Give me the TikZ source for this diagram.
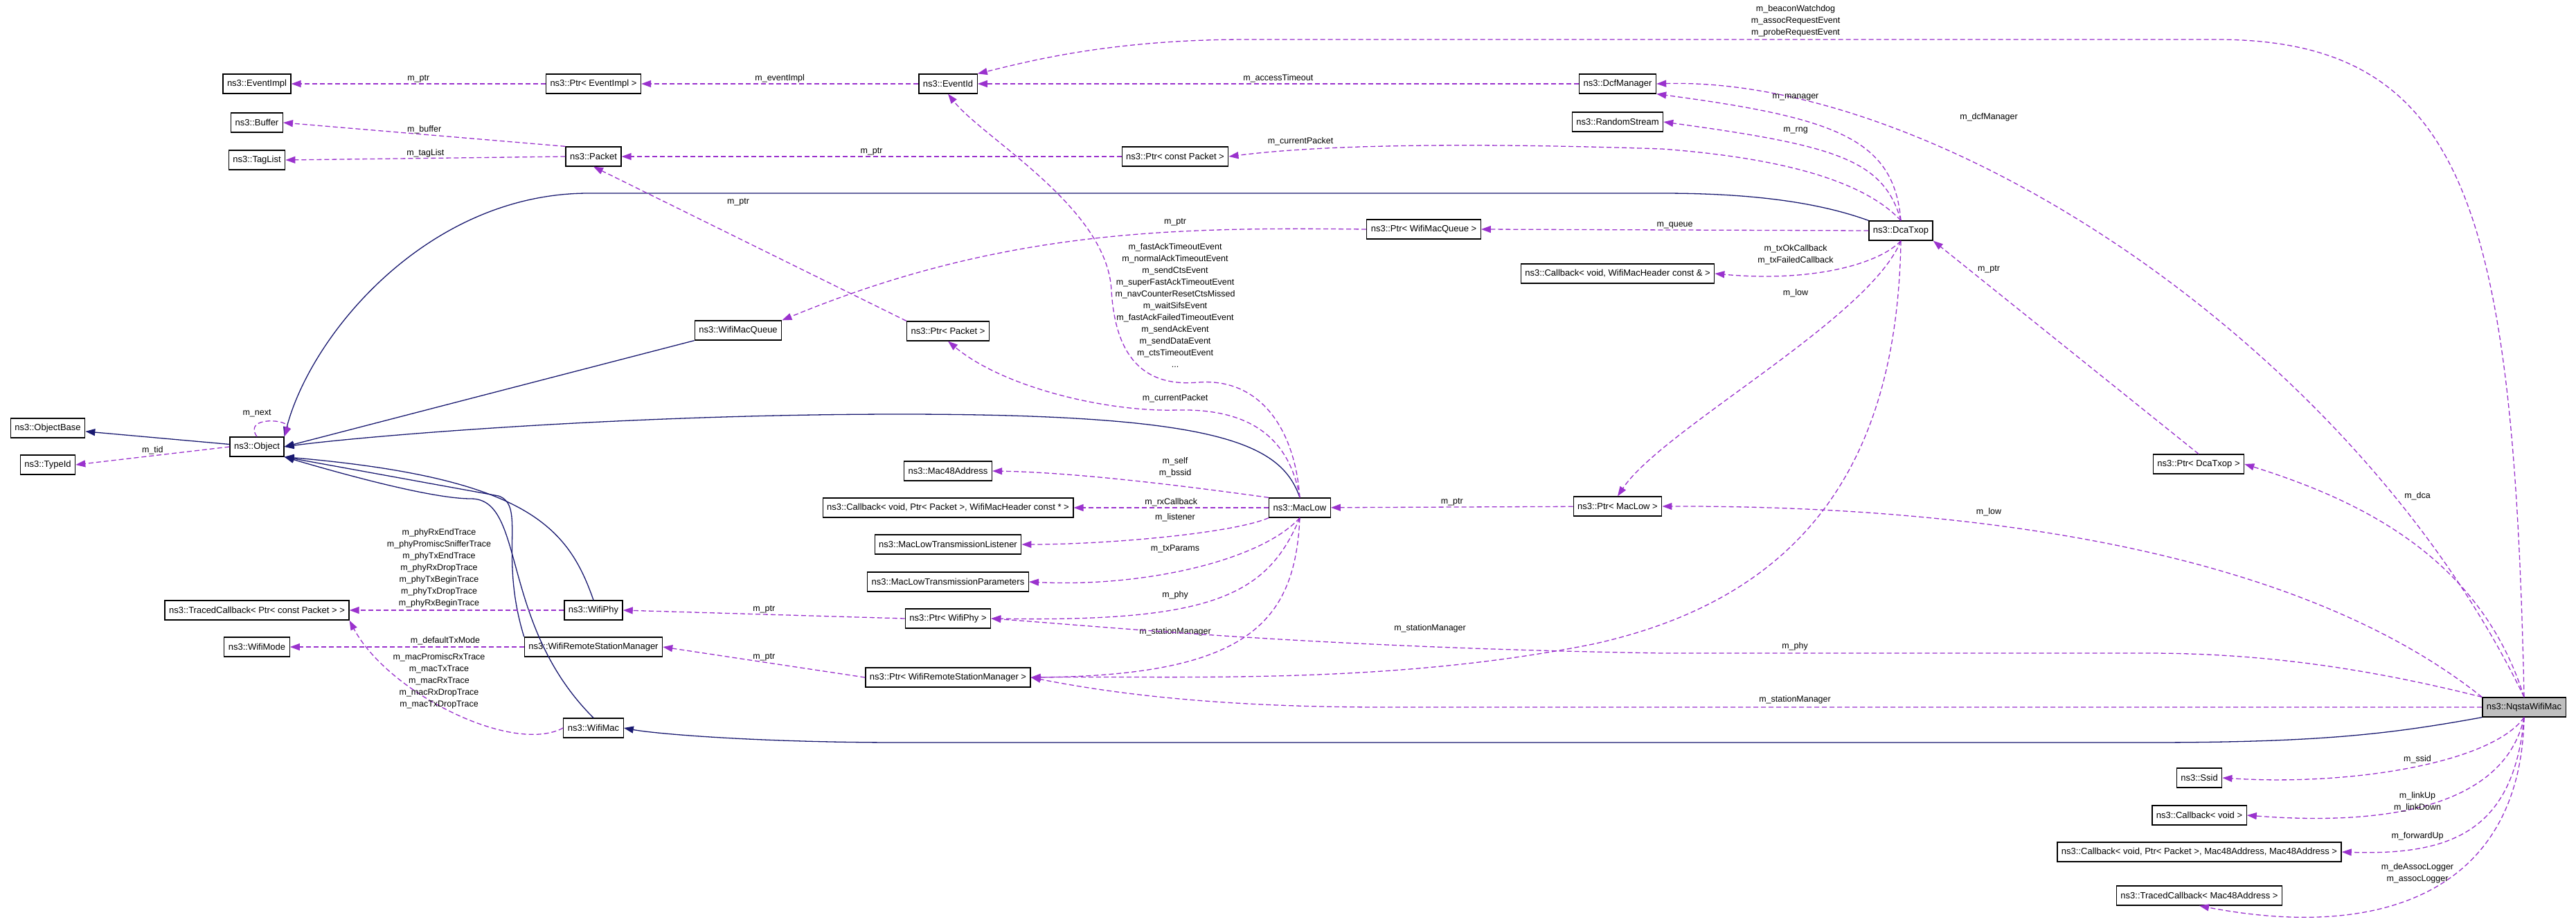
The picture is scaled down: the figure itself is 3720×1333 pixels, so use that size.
\documentclass[tikz,border=0pt]{standalone}
\usepackage{fontspec}
\setmainfont{Liberation Sans}
\usetikzlibrary{arrows.meta}
\definecolor{edgepurple}{HTML}{9A32CD}
\definecolor{inhblue}{HTML}{191970}
\tikzset{
  cls/.style={draw, line width=1.3pt, fill=white, inner xsep=6pt, inner ysep=0pt, minimum height=28pt, font=\fontsize{13}{15}\selectfont},
  lbl/.style={font=\fontsize{12.5}{17}\selectfont, align=center, inner sep=1pt, text=black},
  use/.style={draw=edgepurple, line width=1.3pt, dash pattern=on 7pt off 4pt, -{Triangle[length=14pt,width=10pt]}, edgepurple},
  inh/.style={draw=inhblue, line width=1.3pt, -{Triangle[length=14pt,width=10pt]}, inhblue}
}
\begin{document}
\begin{tikzpicture}[x=1pt,y=-1pt]
	\useasboundingbox (0,0) rectangle (3720,1333);
	% classes
	\node[cls] (evimpl) at (371,121) {ns3::EventImpl};
	\node[cls] (pevimpl) at (857,121) {ns3::Ptr< EventImpl >};
	\node[cls] (buffer) at (371,177) {ns3::Buffer};
	\node[cls] (taglist) at (371,231) {ns3::TagList};
	\node[cls] (packet) at (857,226) {ns3::Packet};
	\node[cls] (macqueue) at (1066,477) {ns3::WifiMacQueue};
	\node[cls] (objbase) at (69,618) {ns3::ObjectBase};
	\node[cls] (object) at (371,645) {ns3::Object};
	\node[cls] (typeid) at (69,671) {ns3::TypeId};
	\node[cls] (eventid) at (1369,121) {ns3::EventId};
	\node[cls] (dcfmgr) at (2336,121) {ns3::DcfManager};
	\node[cls] (rstream) at (2336,176) {ns3::RandomStream};
	\node[cls] (pcpacket) at (1697,226) {ns3::Ptr< const Packet >};
	\node[cls] (pqueue) at (2056,331) {ns3::Ptr< WifiMacQueue >};
	\node[cls] (cbhdr) at (2336,395) {ns3::Callback< void, WifiMacHeader const \& >};
	\node[cls] (ppacket) at (1369,478) {ns3::Ptr< Packet >};
	\node[cls] (mac48) at (1369,680) {ns3::Mac48Address};
	\node[cls] (cbrx) at (1369,733) {ns3::Callback< void, Ptr< Packet >, WifiMacHeader const * >};
	\node[cls] (lowlist) at (1369,786) {ns3::MacLowTransmissionListener};
	\node[cls] (lowparam) at (1369,840) {ns3::MacLowTransmissionParameters};
	\node[cls] (pphy) at (1369,893) {ns3::Ptr< WifiPhy >};
	\node[cls] (pstation) at (1369,978) {ns3::Ptr< WifiRemoteStationManager >};
	\node[cls] (maclow) at (1877,733) {ns3::MacLow};
	\node[cls] (pmaclow) at (2336,731) {ns3::Ptr< MacLow >};
	\node[cls] (dcatxop) at (2745,333) {ns3::DcaTxop};
	\node[cls] (pdca) at (3175,670) {ns3::Ptr< DcaTxop >};
	\node[cls] (tracepkt) at (371,881) {ns3::TracedCallback< Ptr< const Packet > >};
	\node[cls] (wifimode) at (371,934) {ns3::WifiMode};
	\node[cls] (wifiphy) at (857,881) {ns3::WifiPhy};
	\node[cls] (station) at (857,934) {ns3::WifiRemoteStationManager};
	\node[cls] (wifimac) at (857,1051) {ns3::WifiMac};
	\node[cls, fill=black!25] (nqsta) at (3645,1021) {ns3::NqstaWifiMac};
	\node[cls] (ssid) at (3176,1123) {ns3::Ssid};
	\node[cls] (cbvoid) at (3176,1177) {ns3::Callback< void >};
	\node[cls] (cbfwd) at (3176,1230) {ns3::Callback< void, Ptr< Packet >, Mac48Address, Mac48Address >};
	\node[cls] (tracemac) at (3176,1293) {ns3::TracedCallback< Mac48Address >};

	% inheritance
	\draw[inh] (object) -- (objbase);
	\draw[inh] (macqueue.south west) -- (object.east);
	\draw[inh] (dcatxop.north west) .. controls (2620,290) and (2520,279) .. (2400,279) -- (850,279) .. controls (620,279) and (450,480) .. (object.north east);
	\draw[inh] (maclow.north) .. controls (1850,640) and (1760,598) .. (1300,598) .. controls (900,598) and (520,630) .. (object.east);
	\draw[inh] (wifiphy.north) .. controls (820,760) and (760,690) .. (object.south east);
	\draw[inh] (station.north west) .. controls (720,800) and (760,730) .. (720,716) -- (object.south east);
	\draw[inh] (wifimac.north) .. controls (720,900) and (760,720) .. (680,720) .. controls (620,720) and (480,680) .. (object.south east);
	\draw[inh] (nqsta.south west) .. controls (3450,1060) and (3350,1072) .. (3100,1072) -- (1300,1072) .. controls (1100,1072) and (950,1060) .. (wifimac.east);

	% members
	\draw[use] (pevimpl) -- node[lbl, above] {m\_ptr} (evimpl);
	\draw[use] (eventid) -- node[lbl, above] {m\_eventImpl} (pevimpl);
	\draw[use] (packet.north west) -- node[lbl, above, pos=0.5] {m\_buffer} (buffer.east);
	\draw[use] (packet.west) -- node[lbl, above] {m\_tagList} (taglist.east);
	\draw[use] (pcpacket) -- node[lbl, above] {m\_ptr} (packet);
	\draw[use] (ppacket.north west) -- (packet.south);
	\node[lbl] (lptr1) at (1066,292) {m\_ptr};
	\draw[use] (pqueue.west) .. controls (1700,328) and (1450,330) .. (macqueue.north east);
	\node[lbl] (lptr2) at (1697,321) {m\_ptr};
	\draw[use] (object.north) .. controls (350,600) and (420,605) .. (object.north east);
	\node[lbl] (lnext) at (371,597) {m\_next};
	\draw[use] (object.west) -- node[lbl, above] {m\_tid} (typeid.east);
	\draw[use] (dcfmgr) -- node[lbl, above] {m\_accessTimeout} (eventid);
	\draw[use] (nqsta.north) .. controls (3630,300) and (3560,57) .. (3200,57) -- (1800,57) .. controls (1600,57) and (1480,90) .. (eventid.north east);
	\node[lbl] (lbeacon) at (2593,30) {m\_beaconWatchdog\\m\_assocRequestEvent\\m\_probeRequestEvent};
	\draw[use] (nqsta.north) .. controls (3400,500) and (2800,110) .. (dcfmgr.east);
	\node[lbl] (ldcf) at (2872,169) {m\_dcfManager};
	\draw[use] (dcatxop.north) .. controls (2735,200) and (2650,170) .. (dcfmgr.south east);
	\node[lbl] (lmanager) at (2593,140) {m\_manager};
	\draw[use] (dcatxop.north) .. controls (2720,230) and (2650,210) .. (rstream.east);
	\node[lbl] (lrng) at (2593,188) {m\_rng};
	\draw[use] (dcatxop.north) .. controls (2700,270) and (2600,230) .. (2400,215) .. controls (2100,205) and (1900,210) .. (pcpacket.east);
	\node[lbl] (lcur1) at (1878,204) {m\_currentPacket};
	\draw[use] (dcatxop.west) -- node[lbl, above] {m\_queue} (pqueue.east);
	\draw[use] (dcatxop.south) .. controls (2715,380) and (2620,408) .. (cbhdr.east);
	\node[lbl] (ltxok) at (2593,368) {m\_txOkCallback\\m\_txFailedCallback};
	\draw[use] (dcatxop.south) .. controls (2700,460) and (2400,620) .. (pmaclow.north);
	\node[lbl] (llow1) at (2593,423) {m\_low};
	\draw[use] (dcatxop.south) .. controls (2740,650) and (2620,860) .. (2300,930) .. controls (2000,990) and (1700,975) .. (pstation.east);
	\node[lbl] (lsm1) at (2065,907) {m\_stationManager};
	\draw[use] (pdca.north) -- (dcatxop.south east);
	\node[lbl] (lptr3) at (2872,389) {m\_ptr};
	\draw[use] (nqsta.north) .. controls (3580,800) and (3400,720) .. (pdca.east);
	\node[lbl] (ldca) at (3491,716) {m\_dca};
	\draw[use] (maclow.north) .. controls (1870,620) and (1820,545) .. (1730,552) .. controls (1640,560) and (1610,500) .. (1605,420) .. controls (1600,300) and (1420,200) .. (eventid.south);
	\node[lbl] (levents) at (1697,441) {m\_fastAckTimeoutEvent\\m\_normalAckTimeoutEvent\\m\_sendCtsEvent\\m\_superFastAckTimeoutEvent\\m\_navCounterResetCtsMissed\\m\_waitSifsEvent\\m\_fastAckFailedTimeoutEvent\\m\_sendAckEvent\\m\_sendDataEvent\\m\_ctsTimeoutEvent\\...};
	\draw[use] (maclow.north) .. controls (1860,620) and (1790,590) .. (1700,592) .. controls (1600,595) and (1450,560) .. (ppacket.south);
	\node[lbl] (lcur2) at (1697,575) {m\_currentPacket};
	\draw[use] (maclow.north west) .. controls (1700,700) and (1550,682) .. (mac48.east);
	\node[lbl] (lself) at (1697,675) {m\_self\\m\_bssid};
	\draw[use] (maclow.west) -- node[lbl, above] {m\_rxCallback} (cbrx.east);
	\draw[use] (maclow.south west) .. controls (1780,770) and (1600,786) .. (lowlist.east);
	\node[lbl] (llist) at (1697,747) {m\_listener};
	\draw[use] (maclow.south) .. controls (1820,810) and (1650,848) .. (lowparam.east);
	\node[lbl] (ltx) at (1697,792) {m\_txParams};
	\draw[use] (maclow.south) .. controls (1830,860) and (1750,898) .. (pphy.east);
	\node[lbl] (lphy1) at (1697,859) {m\_phy};
	\draw[use] (maclow.south) .. controls (1870,900) and (1800,975) .. (pstation.east);
	\node[lbl] (lsm2) at (1697,912) {m\_stationManager};
	\draw[use] (pmaclow) -- node[lbl, above] {m\_ptr} (maclow);
	\draw[use] (nqsta.north west) .. controls (3300,780) and (2800,730) .. (pmaclow.east);
	\node[lbl] (llow2) at (2872,739) {m\_low};
	\draw[use] (nqsta.north west) .. controls (3400,960) and (3250,943) .. (3100,943) -- (2400,943) .. controls (1900,935) and (1600,905) .. (pphy.east);
	\node[lbl] (lphy2) at (2592,933) {m\_phy};
	\draw[use] (nqsta.west) -- (2000,1021) .. controls (1750,1021) and (1600,1000) .. (pstation.east);
	\node[lbl] (lsm3) at (2592,1010) {m\_stationManager};
	\draw[use] (pphy.west) -- node[lbl, above] {m\_ptr} (wifiphy.east);
	\draw[use] (pstation.west) -- node[lbl, above] {m\_ptr} (station.east);
	\draw[use] (wifiphy) -- (tracepkt);
	\node[lbl] (lphytr) at (634,820) {m\_phyRxEndTrace\\m\_phyPromiscSnifferTrace\\m\_phyTxEndTrace\\m\_phyRxDropTrace\\m\_phyTxBeginTrace\\m\_phyTxDropTrace\\m\_phyRxBeginTrace};
	\draw[use] (station) -- (wifimode);
	\node[lbl] (ldef) at (643,925) {m\_defaultTxMode};
	\draw[use] (wifimac.west) .. controls (740,1090) and (560,1000) .. (tracepkt.south east);
	\node[lbl] (lmactr) at (634,983) {m\_macPromiscRxTrace\\m\_macTxTrace\\m\_macRxTrace\\m\_macRxDropTrace\\m\_macTxDropTrace};
	\draw[use] (nqsta.south) .. controls (3600,1100) and (3400,1135) .. (ssid.east);
	\node[lbl] (lssid) at (3491,1096) {m\_ssid};
	\draw[use] (nqsta.south) .. controls (3620,1150) and (3480,1195) .. (cbvoid.east);
	\node[lbl] (llink) at (3491,1158) {m\_linkUp\\m\_linkDown};
	\draw[use] (nqsta.south) .. controls (3630,1200) and (3540,1235) .. (cbfwd.east);
	\node[lbl] (lfwd) at (3491,1207) {m\_forwardUp};
	\draw[use] (nqsta.south) .. controls (3640,1280) and (3450,1360) .. (tracemac.south);
	\node[lbl] (llog) at (3491,1261) {m\_deAssocLogger\\m\_assocLogger};
\end{tikzpicture}
\end{document}
